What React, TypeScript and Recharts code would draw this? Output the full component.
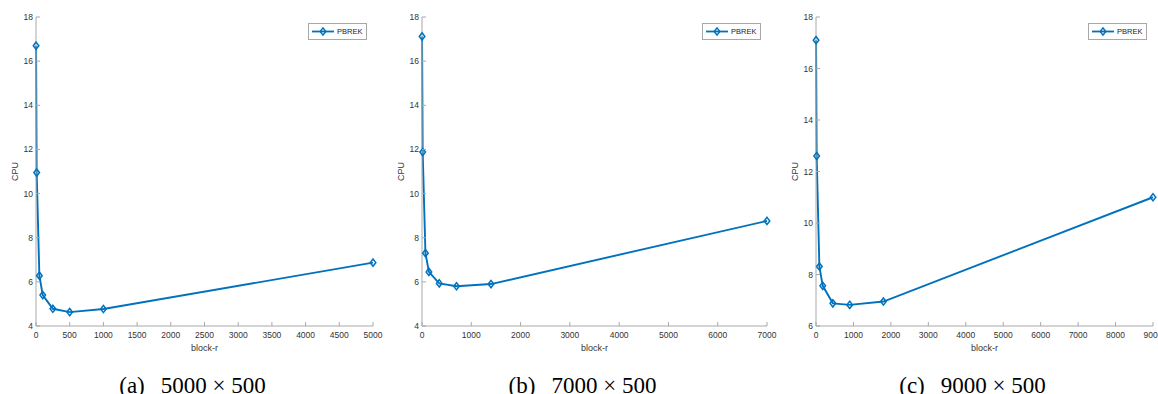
import React from 'react';
import { LineChart, Line, XAxis, YAxis } from 'recharts';

// block-r values and CPU times
const blockA = [1, 10, 50, 100, 250, 500, 1000, 5000];
const cpuA = [16.7, 10.95, 6.28, 5.4, 4.78, 4.63, 4.77, 6.87];

const blockB = [1.4, 14, 70, 140, 350, 700, 1400, 7000];
const cpuB = [17.12, 11.88, 7.3, 6.45, 5.93, 5.8, 5.9, 8.76];

const blockC = [1.8, 18, 90, 180, 450, 900, 1800, 9000];
const cpuC = [17.1, 12.6, 8.31, 7.56, 6.88, 6.82, 6.95, 11.0];

const xTicksA = [0, 500, 1000, 1500, 2000, 2500, 3000, 3500, 4000, 4500, 5000];
const xTicksB = [0, 1000, 2000, 3000, 4000, 5000, 6000, 7000];
const xTicksC = [0, 1000, 2000, 3000, 4000, 5000, 6000, 7000, 8000, 9000];
const yTicksAB = [4, 6, 8, 10, 12, 14, 16, 18];
const yTicksC = [6, 8, 10, 12, 14, 16, 18];

const captions = ['(a)', '(b)', '(c)'];
const sizes = ['5000 × 500', '7000 × 500', '9000 × 500'];

const BLUE = '#0072BD';
const AXIS = '#a8a8a8';
const INK = '#333333';
const SANS = '"Liberation Sans", Arial, sans-serif';
const SERIF = '"Liberation Serif", "Times New Roman", serif';

const panels = [
  { block: blockA, cpu: cpuA, xTicks: xTicksA, yTicks: yTicksAB, plotLeft: 36, plotWidth: 337 },
  { block: blockB, cpu: cpuB, xTicks: xTicksB, yTicks: yTicksAB, plotLeft: 422, plotWidth: 345 },
  { block: blockC, cpu: cpuC, xTicks: xTicksC, yTicks: yTicksC, plotLeft: 816, plotWidth: 337 },
];

const BottomTick = (props: any) => {
  const { x, y, payload } = props;
  return (
    <g>
      <line x1={x} x2={x} y1={y - 4} y2={y - 8} stroke={AXIS} />
      <text x={x} y={y + 8} textAnchor="middle" fontSize={8.5} fontFamily={SANS} fill={INK}>
        {payload.value}
      </text>
    </g>
  );
};

const LeftTick = (props: any) => {
  const { x, y, payload } = props;
  return (
    <g>
      <line x1={x + 3} x2={x + 7} y1={y} y2={y} stroke={AXIS} />
      <text x={x} y={y + 3} textAnchor="end" fontSize={8.5} fontFamily={SANS} fill={INK}>
        {payload.value}
      </text>
    </g>
  );
};

const TopTick = (props: any) => {
  const { x, y } = props;
  return <line x1={x} x2={x} y1={y} y2={y + 4} stroke={AXIS} />;
};

const RightTick = (props: any) => {
  const { x, y } = props;
  return <line x1={x} x2={x - 4} y1={y} y2={y} stroke={AXIS} />;
};

const renderDiamond = (props: any) => {
  const { cx, cy, index } = props;
  return (
    <path
      key={`d-${index}`}
      d={`M${cx},${cy - 3.6}L${cx + 2.8},${cy}L${cx},${cy + 3.6}L${cx - 2.8},${cy}Z`}
      fill="none"
      stroke={BLUE}
      strokeWidth={1.5}
    />
  );
};

const yTitle = (p: any) => {
  const vb = p.viewBox;
  const cx = vb.x + vb.width - 21;
  const cy = vb.y + vb.height / 2;
  return (
    <text x={cx} y={cy} transform={`rotate(-90 ${cx} ${cy})`} textAnchor="middle" dy={3}
      fontSize={9} fontFamily={SANS} fill={INK}>
      CPU
    </text>
  );
};

const xTitle = (p: any) => {
  const vb = p.viewBox;
  return (
    <text x={vb.x + vb.width / 2} y={vb.y + 25} textAnchor="middle" fontSize={9} fontFamily={SANS} fill={INK}>
      block-r
    </text>
  );
};

function LegendBox({ left }: { left: number }) {
  return (
    <svg width={59} height={17} style={{ position: 'absolute', left, top: 23 }}>
      <rect x={0.5} y={0.5} width={58} height={16} fill="#fff" stroke={AXIS} />
      <line x1={4} x2={26} y1={8.5} y2={8.5} stroke={BLUE} strokeWidth={1.8} />
      <path d="M15,4.9L17.8,8.5L15,12.1L12.2,8.5Z" fill="none" stroke={BLUE} strokeWidth={1.5} />
      <text x={29} y={11.3} fontSize={7.5} fontFamily={SANS} fill="#222">PBREK</text>
    </svg>
  );
}

function Panel({ p }: { p: any }) {
  const data = p.block.map((r: number, i: number) => ({ r, cpu: p.cpu[i] }));
  const xDomain = [p.xTicks[0], p.xTicks[p.xTicks.length - 1]];
  const yDomain = [p.yTicks[0], p.yTicks[p.yTicks.length - 1]];
  return (
    <div style={{ position: 'absolute', left: p.plotLeft - 40, top: 0 }}>
      <LineChart width={40 + p.plotWidth + 16} height={360} data={data}
        margin={{ top: 17, right: 16, left: 0, bottom: 0 }}>
        <XAxis xAxisId="b" dataKey="r" type="number" domain={xDomain} ticks={p.xTicks} interval={0}
          tickSize={0} tickMargin={4} height={34} axisLine={{ stroke: AXIS }} tick={<BottomTick />}
          label={{ content: xTitle }} />
        <XAxis xAxisId="t" orientation="top" dataKey="r" type="number" domain={xDomain} ticks={p.xTicks}
          interval={0} tickSize={0} tickMargin={0} height={0} axisLine={{ stroke: AXIS }} tick={<TopTick />} />
        <YAxis yAxisId="l" type="number" domain={yDomain} ticks={p.yTicks} interval={0} width={40}
          tickSize={0} tickMargin={3} axisLine={{ stroke: AXIS }} tick={<LeftTick />}
          label={{ content: yTitle }} />
        <YAxis yAxisId="r" orientation="right" type="number" domain={yDomain} ticks={p.yTicks} interval={0}
          width={0} tickSize={0} tickMargin={0} axisLine={{ stroke: AXIS }} tick={<RightTick />} />
        <Line xAxisId="b" yAxisId="l" type="linear" dataKey="cpu" stroke={BLUE} strokeWidth={1.9}
          dot={renderDiamond} activeDot={false} isAnimationActive={false} />
      </LineChart>
    </div>
  );
}

export default function App() {
  return (
    <div style={{ position: 'absolute', left: 0, top: 0, width: 1158, height: 394, overflow: 'hidden', background: '#fff' }}>
      {panels.map((p, i) => (
        <Panel key={i} p={p} />
      ))}
      {panels.map((p, i) => (
        <LegendBox key={`lg-${i}`} left={p.plotLeft + p.plotWidth - 65} />
      ))}
      <svg width={1158} height={34} style={{ position: 'absolute', left: 0, top: 360 }}>
        {panels.map((p, i) => (
          <text key={i} x={p.plotLeft + p.plotWidth / 2 - 12} y={32.5} textAnchor="middle"
            fontSize={23} fontFamily={SERIF} fill="#000">
            {captions[i]}
            <tspan dx={16}>{sizes[i]}</tspan>
          </text>
        ))}
      </svg>
    </div>
  );
}
